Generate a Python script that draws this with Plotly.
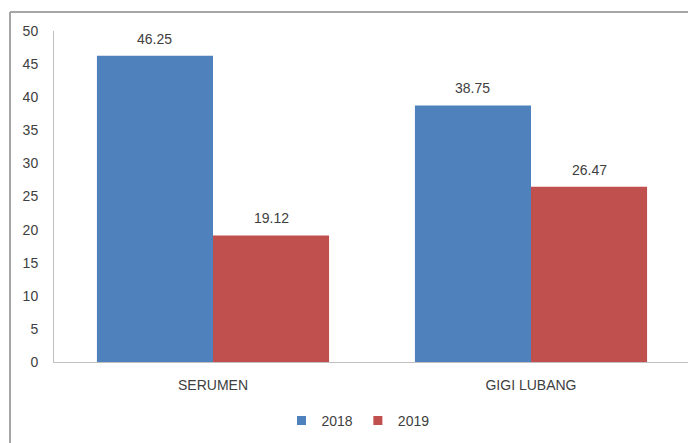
import plotly.graph_objects as go

categories = ["SERUMEN", "GIGI LUBANG"]
series_names = ["2018", "2019"]
values_2018 = [46.25, 38.75]
values_2019 = [19.12, 26.47]
labels_2018 = ["46.25", "38.75"]
labels_2019 = ["19.12", "26.47"]
y_ticks = [0, 5, 10, 15, 20, 25, 30, 35, 40, 45, 50]
colors = ["#4F81BD", "#C0504D"]

font_family = "Liberation Sans, Arial, sans-serif"
text_color = "#404040"
fs = 14

fig = go.Figure()
for name, vals, col in zip(series_names, [values_2018, values_2019], colors):
    fig.add_trace(go.Bar(
        x=categories, y=vals, name=name, showlegend=False,
        marker=dict(color=col, line=dict(width=0)),
        offsetgroup=name,
    ))
# legend entries (small square markers like the original)
for name, col in zip(series_names, colors):
    fig.add_trace(go.Scatter(
        x=[None], y=[None], mode="markers", name=name,
        marker=dict(symbol="square", size=9, color=col),
    ))

W, H = 696, 443
# page body has an 8px margin, so figure coords = screen coords - 8
ml, mr, mt, mb = 46, 14, 23, 89
pw = W - ml - mr
ph = H - mt - mb

# value labels above bars
bar_w = (1 - 0.27) / 2
for i, (vals, labs) in enumerate([(values_2018, labels_2018), (values_2019, labels_2019)]):
    for j, (v, t) in enumerate(zip(vals, labs)):
        fig.add_annotation(
            x=j + (i - 0.5) * bar_w, y=v, xref="x", yref="y",
            text=t, showarrow=False, yanchor="bottom", yshift=7,
            font=dict(size=fs, color=text_color, family=font_family),
        )

fig.update_layout(
    width=W, height=H,
    margin=dict(l=ml, r=mr, t=mt, b=mb, autoexpand=False),
    paper_bgcolor="white", plot_bgcolor="white",
    barmode="group", bargap=0.27, bargroupgap=0,
    font=dict(family=font_family, size=fs, color=text_color),
    showlegend=True,
    legend=dict(orientation="h", x=0.478, xanchor="center", y=-0.178, yanchor="middle",
                font=dict(size=fs, color=text_color), itemwidth=30,
                traceorder="normal"),
    xaxis=dict(showline=True, linecolor="#BFBFBF", linewidth=1, ticks="",
               showgrid=False, tickfont=dict(size=fs, color=text_color),
               ticklabelstandoff=10, range=[-0.5, 1.5]),
    yaxis=dict(range=[0, 50], tickvals=y_ticks, showline=True, linecolor="#BFBFBF",
               linewidth=1, ticks="", showgrid=False, zeroline=False,
               tickfont=dict(size=fs, color=text_color), ticklabelstandoff=12),
)

# outer chart border (top and left visible; the image is cropped on right/bottom)
bx = (2 - ml) / pw
by = (H - mb - 4) / ph
fig.add_shape(type="line", xref="paper", yref="paper", x0=bx, x1=1.2, y0=by, y1=by,
              line=dict(color="#A6A6A6", width=2))
fig.add_shape(type="line", xref="paper", yref="paper", x0=bx, x1=bx, y0=by, y1=-0.5,
              line=dict(color="#A6A6A6", width=2))

fig.write_html("out.html")
